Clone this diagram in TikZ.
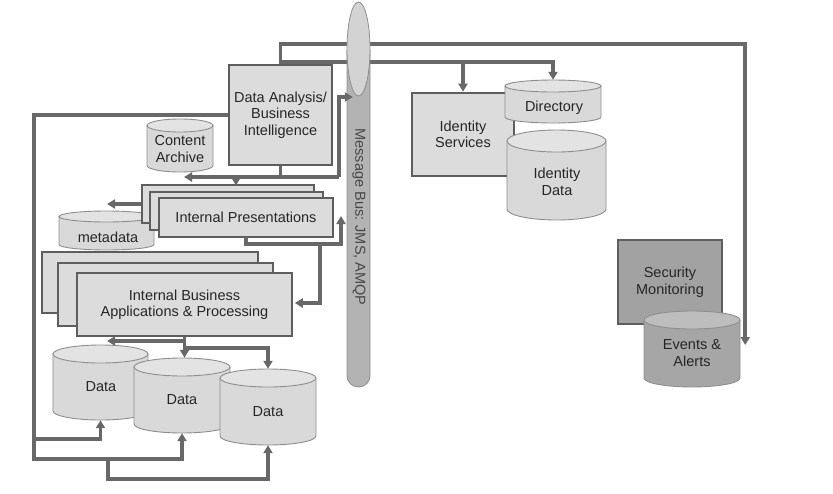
\documentclass[tikz,border=0pt]{standalone}
\usepackage{fontspec}
\setmainfont{Liberation Sans}
\usetikzlibrary{arrows.meta}
\definecolor{boxfill}{HTML}{DCDCDC}
\definecolor{boxline}{HTML}{5E5E5E}
\definecolor{connc}{HTML}{686868}
\definecolor{cylfill}{HTML}{D9D9D9}
\definecolor{cyltop}{HTML}{E3E3E3}
\definecolor{cyledge}{HTML}{8E8E8E}
\definecolor{secfill}{HTML}{A2A2A2}
\definecolor{evfill}{HTML}{A6A6A6}
\definecolor{evtop}{HTML}{BDBDBD}
\definecolor{busbody}{HTML}{B3B3B3}
\definecolor{bustop}{HTML}{D3D3D3}
\definecolor{txtc}{HTML}{262626}
\newcommand\dbcyl[8]{%
  \pgfmathsetmacro\cyx{(#2+#4)/2}%
  \pgfmathsetmacro\cyr{(#4-#2)/2}%
  \pgfmathsetmacro\cyh{#5-#3}%
  \pgfmathsetmacro\cyw{#4-#2}%
  \path[draw=cyledge,line width=0.9pt,fill=#7] (#2,#3+#6) -- (#2,#5-#6) arc[start angle=180,end angle=0,x radius=\cyr,y radius=#6] -- (#4,#3+#6) -- cycle;
  \path[draw=cyledge,line width=0.9pt,fill=#8] (\cyx,#3+#6) ellipse[x radius=\cyr,y radius=#6];
  \node[inner sep=0pt,minimum width=\cyw,minimum height=\cyh] (#1) at (\cyx,{(#3+#5)/2}) {};
}
\begin{document}
\begin{tikzpicture}[x=1pt,y=-1pt,
  box/.style={draw=boxline,line width=2.6pt,fill=boxfill,inner sep=0pt},
  lbl/.style={font=\fontsize{14.5}{16.5}\selectfont,text=txtc,align=center,inner sep=0pt},
  conn/.style={draw=connc,line width=3.6pt},
  arr/.style={-{Triangle[length=8pt,width=9pt]}},
]
\fill[white] (0,0) rectangle (833,493);
\useasboundingbox (0,0) rectangle (833,493);

% boxes and stores
\dbcyl{ca}{147}{119}{213}{172}{6.5}{cylfill}{cyltop}
\node[lbl] (catxt) at (180,149) {Content\\Archive};
\dbcyl{md}{59}{211}{154}{250}{5.5}{cylfill}{cyltop}
\node[lbl] (mdtxt) at (108,237) {metadata};

\node[box,minimum width=172,minimum height=38] (ipb) at (228,204) {};
\node[box,minimum width=173,minimum height=38] (ipm) at (236.5,211) {};
\node[box,lbl,minimum width=174,minimum height=39] (ipf) at (246,217.5) {Internal Presentations};

\node[box,minimum width=216,minimum height=61] (ibb) at (150,282.5) {};
\node[box,minimum width=215,minimum height=63] (ibm) at (165.5,294.5) {};
\node[box,lbl,minimum width=215,minimum height=63] (ibf) at (184.5,304.5) {Internal Business\\Applications \& Processing};

\dbcyl{d1}{53}{345}{148}{420}{9}{cylfill}{cyltop}
\node[lbl] (d1txt) at (101,387) {Data};
\dbcyl{d2}{134}{358}{230}{433}{9}{cylfill}{cyltop}
\node[lbl] (d2txt) at (182,400) {Data};
\dbcyl{d3}{220}{369}{316}{445}{9}{cylfill}{cyltop}
\node[lbl] (d3txt) at (268,412) {Data};

\node[box,lbl,minimum width=103,minimum height=100] (da) at (280.5,115) {Data Analysis/\\Business\\Intelligence};

\node[box,lbl,minimum width=102,minimum height=83] (ids) at (463,134.5) {Identity\\Services};
\dbcyl{dir}{505}{80}{601}{123}{6}{cylfill}{cyltop}
\node[lbl] (dirtxt) at (554,107.5) {Directory};
\dbcyl{idd}{507}{130}{606}{220}{11}{cylfill}{cyltop}
\node[lbl] (iddtxt) at (557,182) {Identity\\Data};

\node[box,lbl,fill=secfill,minimum width=104,minimum height=84] (sec) at (670,282) {Security\\Monitoring};
\dbcyl{ev}{644}{311}{740}{387}{9}{evfill}{evtop}
\node[lbl] (evtxt) at (692,353) {Events \&\\Alerts};

% connectors
\draw[conn,arr] (da.north) -- ++(0,-20) -| ([xshift=5pt,yshift=4pt]ev.east);
\draw[conn,arr] (280.5,62) -| (dir.north);
\draw[conn,arr] (ids.north |- 0,62) -- (ids.north);

\draw[conn] (da.south) -- (280.5,177);
\draw[conn,arr] (339,177) -- (184,177);
\draw[conn,arr] (236,177) -- (236,185.5);

\draw[conn,arr] (246,237) -- (246,244) -- (341,244) -- (341,216);
\draw[conn,arr] (320,244) -- (320,303) -- ([xshift=1.5pt]ibf.east |- 0,303);
\draw[conn,arr] (ipb.west |- 0,204) -- (107,204);

\draw[conn,arr] (ibf.south) -- (ibf.south |- d2.north);
\draw[conn,arr] (184.5,341) -- (107,341);
\draw[conn,arr] (184.5,348) -| (d3.north);

\draw[conn,arr] (da.west) -- (34,115) -- (34,459) -| (d2.south);
\draw[conn,arr] (34,439) -| (d1.south);
\draw[conn,arr] (108,459) -- (108,479) -| (d3.south);

% message bus
\path[draw=cyledge,line width=0.8pt,fill=busbody] (347,50) -- (347,376) arc[start angle=180,end angle=0,x radius=11.5,y radius=11] -- (370,50) -- cycle;
\path[draw=cyledge,line width=0.8pt,fill=bustop] (358.5,49) ellipse[x radius=11.5,y radius=47];
\node[inner sep=0pt,minimum width=23,minimum height=385] (bus) at (358.5,194.5) {};
\node[lbl,rotate=-90,text=txtc!85] (bustxt) at (359,217) {Message Bus: JMS, AMQP};
\draw[conn,arr] (339,177) -- (339,97) -- (bus.west |- 0,97) -- ++(6,0);
\end{tikzpicture}
\end{document}
